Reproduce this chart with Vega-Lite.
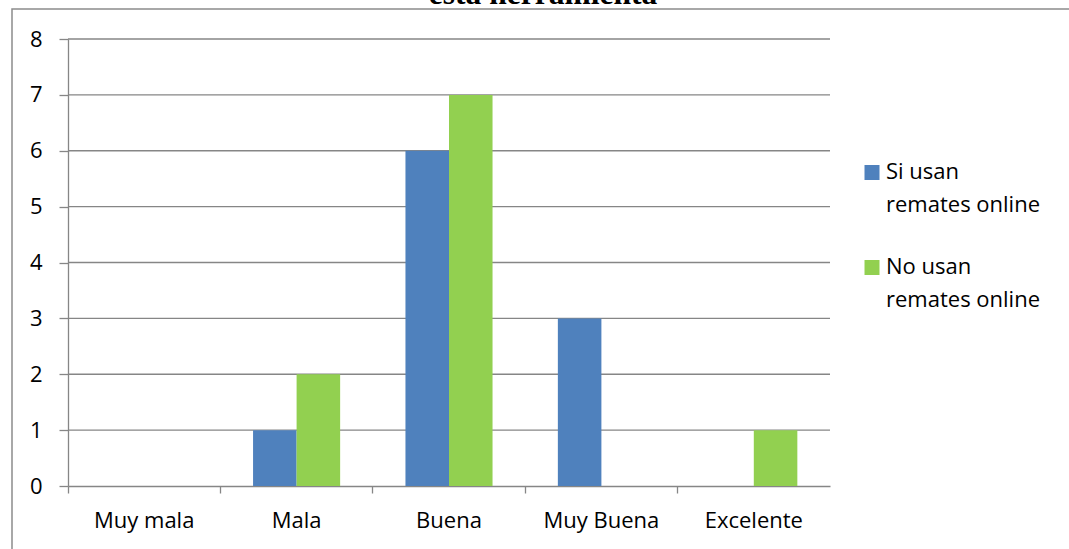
{
  "$schema": "https://vega.github.io/schema/vega-lite/v6.json",
  "autosize": {"type": "none"},
  "padding": {"left": 12, "top": 9, "right": -5, "bottom": -5},
  "width": 1062,
  "height": 545,
  "background": "white",
  "title": {
    "text": "esta herramienta",
    "font": "Liberation Serif",
    "fontWeight": "bold",
    "fontSize": 31.5,
    "color": "#000000",
    "anchor": "middle",
    "frame": "group",
    "baseline": "alphabetic",
    "offset": -26.5
  },
  "datasets": {
    "valoracion": [
      {"calificacion": "Muy mala", "grupo": "Si usan remates online", "cantidad": 0},
      {"calificacion": "Muy mala", "grupo": "No usan remates online", "cantidad": 0},
      {"calificacion": "Mala", "grupo": "Si usan remates online", "cantidad": 1},
      {"calificacion": "Mala", "grupo": "No usan remates online", "cantidad": 2},
      {"calificacion": "Buena", "grupo": "Si usan remates online", "cantidad": 6},
      {"calificacion": "Buena", "grupo": "No usan remates online", "cantidad": 7},
      {"calificacion": "Muy Buena", "grupo": "Si usan remates online", "cantidad": 3},
      {"calificacion": "Muy Buena", "grupo": "No usan remates online", "cantidad": 0},
      {"calificacion": "Excelente", "grupo": "Si usan remates online", "cantidad": 0},
      {"calificacion": "Excelente", "grupo": "No usan remates online", "cantidad": 1}
    ],
    "lineas": [
      {"nivel": 1}, {"nivel": 2}, {"nivel": 3}, {"nivel": 4},
      {"nivel": 5}, {"nivel": 6}, {"nivel": 7}, {"nivel": 8}
    ]
  },
  "layer": [
    {
      "data": {"name": "lineas"},
      "mark": {"type": "rule", "color": "#868686", "strokeWidth": 1.3},
      "encoding": {
        "x": {"datum": 0, "type": "quantitative", "scale": {"domain": [0, 5], "range": [56, 818]}, "axis": null},
        "x2": {"datum": 5},
        "y": {"field": "nivel", "type": "quantitative"}
      }
    },
    {
      "data": {"name": "valoracion"},
      "mark": {"type": "bar"},
      "encoding": {
        "x": {
          "field": "calificacion",
          "type": "nominal",
          "sort": ["Muy mala", "Mala", "Buena", "Muy Buena", "Excelente"],
          "scale": {"range": [56, 818], "paddingInner": 0, "paddingOuter": 0},
          "axis": {
            "title": null,
            "orient": "bottom",
            "offset": -68,
            "bandPosition": 0,
            "labelAngle": 0,
            "tickSize": 7,
            "labelPadding": 17,
            "grid": false
          }
        },
        "xOffset": {
          "field": "grupo",
          "type": "nominal",
          "sort": ["Si usan remates online", "No usan remates online"],
          "scale": {"paddingInner": 0, "paddingOuter": 0.75}
        },
        "y": {
          "field": "cantidad",
          "type": "quantitative",
          "scale": {"domain": [0, 8], "range": [477, 30], "nice": false, "zero": true},
          "axis": {
            "title": null,
            "orient": "left",
            "offset": -56,
            "values": [0, 1, 2, 3, 4, 5, 6, 7, 8],
            "format": "d",
            "tickSize": 9,
            "labelPadding": 17,
            "grid": false
          }
        },
        "color": {
          "field": "grupo",
          "type": "nominal",
          "sort": ["Si usan remates online", "No usan remates online"],
          "scale": {"range": ["#4F81BD", "#92D050"]},
          "legend": {
            "title": null,
            "orient": "none",
            "legendX": 849,
            "legendY": 142,
            "symbolType": "M-1,0.4H1V2.4H-1Z",
            "symbolSize": 225,
            "symbolStrokeWidth": 0,
            "labelOffset": 3,
            "labelBaseline": "top",
            "rowPadding": 30,
            "padding": 0,
            "labelExpr": "[replace(datum.label, ' remates online', ''), 'remates online']"
          }
        }
      }
    },
    {
      "mark": {"type": "rule", "color": "#868686", "strokeWidth": 1.3},
      "encoding": {
        "x": {"datum": 5, "type": "quantitative", "scale": {"domain": [0, 5], "range": [56, 818]}, "axis": null},
        "y": {"datum": 0, "type": "quantitative"},
        "y2": {"datum": -0.125}
      }
    }
  ],
  "resolve": {"scale": {"x": "independent"}},
  "config": {
    "view": {"stroke": "#8c8c8c", "strokeWidth": 1.5},
    "style": {"guide-label": {"lineHeight": 33}},
    "axis": {
      "labelFont": "Open Sans",
      "labelFontSize": 22,
      "labelColor": "#000000",
      "domainColor": "#868686",
      "domainWidth": 1.3,
      "tickColor": "#868686",
      "tickWidth": 1.3
    },
    "legend": {
      "labelFont": "Open Sans",
      "labelFontSize": 22,
      "labelColor": "#000000",
      "labelLimit": 300
    }
  }
}
